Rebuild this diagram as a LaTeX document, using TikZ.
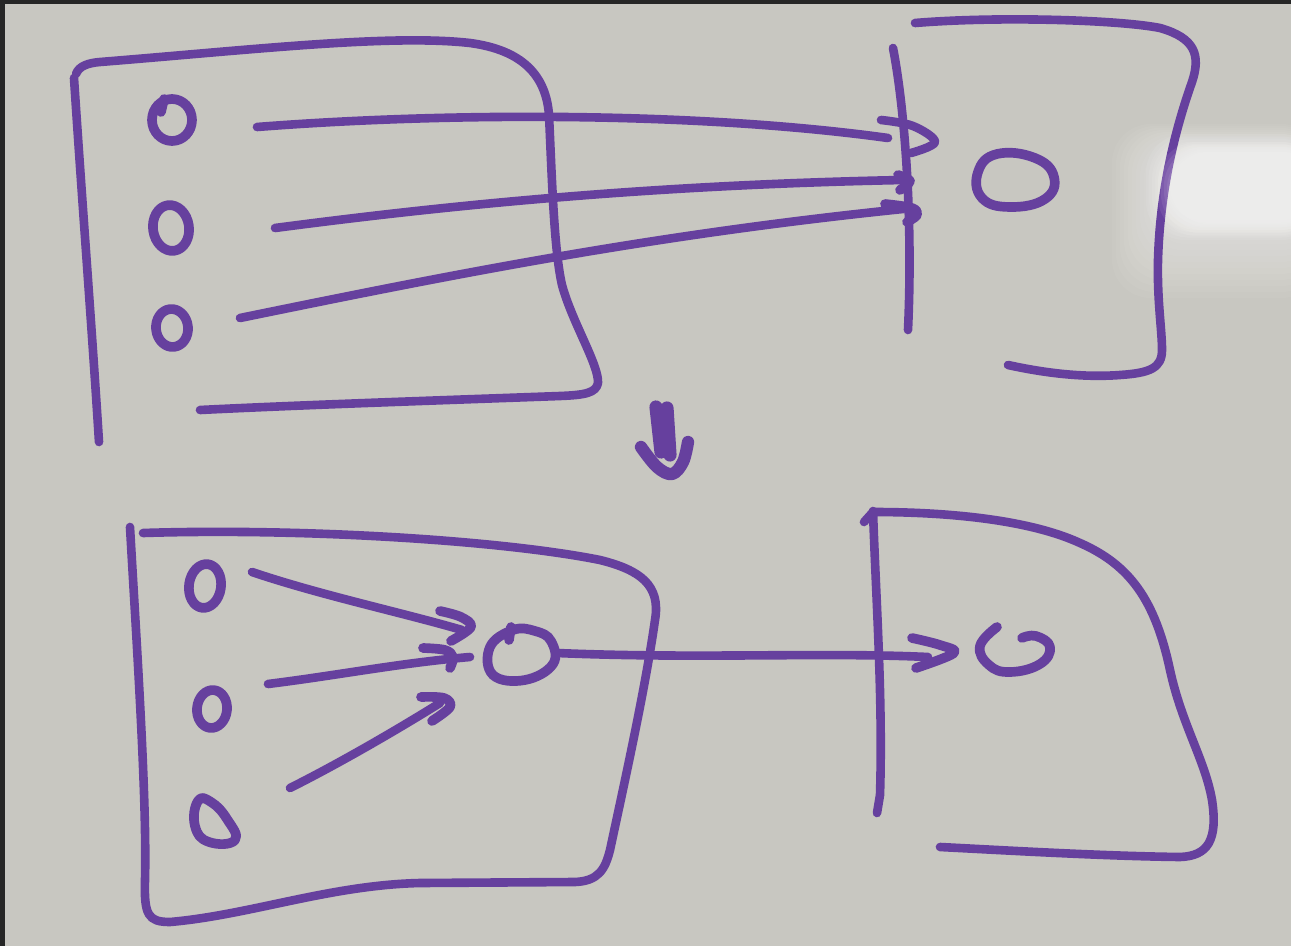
\documentclass[tikz,border=0pt]{standalone}
\usetikzlibrary{calc}
\definecolor{board}{RGB}{200,199,193}
\definecolor{pen}{RGB}{102,64,158}
\definecolor{frame}{RGB}{38,38,38}
\tikzset{
  ink/.style={draw=pen, line width=4.9pt, line cap=round, line join=round},
  inkthick/.style={ink, line width=5.5pt},
  glare/.style={fill=white, draw=none, rounded corners=22pt},
}
\begin{document}
\begin{tikzpicture}[x=0.02cm, y=-0.02cm]
\useasboundingbox (0,0) rectangle (1291,946);
% whiteboard surface
\fill[board] (0,0) rectangle (1291,946);
% light reflection on the board: a wide faint halo and a brighter core
\foreach \k in {0,...,13}
  \fill[glare, opacity=0.045] (1112+4*\k,124+2*\k) rectangle (1320,298-6*\k);
\foreach \k in {0,...,7}
  \fill[glare, opacity=0.07] (1146+3*\k,134+2.5*\k) rectangle (1320,240-2.5*\k);
% dark edge of the board frame
\fill[frame] (0,0) rectangle (1291,4);
\fill[frame] (0,0) rectangle (5,946);

% ---------------- upper sketch ----------------
% left box
\draw[ink] (74,78) .. controls (82,200) and (92,330) .. (99,442);
\draw[ink] (76,74) .. controls (79,66) and (88,63) .. (100,62)
  .. controls (250,50) and (390,34) .. (470,43)
  .. controls (522,50) and (546,75) .. (549,115)
  .. controls (552,180) and (554,250) .. (562,285)
  .. controls (572,322) and (599,365) .. (598,383)
  .. controls (596,393) and (585,395) .. (560,396)
  .. controls (450,400) and (300,405) .. (200,410);
% items in the left box
\coordinate (u1) at (172,120);
\coordinate (u2) at (171,228);
\coordinate (u3) at (172,328);
\draw[inkthick] (u1) ellipse [x radius=20, y radius=21];
\draw[inkthick] ($(u1)+(-8,-21)$) -- ($(u1)+(-11,-8)$);
\draw[inkthick, rotate around={8:(u2)}] (u2) ellipse [x radius=18, y radius=23];
\draw[inkthick, rotate around={6:(u3)}] (u3) ellipse [x radius=16, y radius=19];

% right box with its input bar
\draw[ink] (893,48) .. controls (905,110) and (913,220) .. (908,330);
\draw[ink] (915,23) .. controls (1000,16) and (1120,20) .. (1160,28)
  .. controls (1195,38) and (1201,55) .. (1192,82)
  .. controls (1175,130) and (1160,190) .. (1158,260)
  .. controls (1157,300) and (1162,330) .. (1162,350)
  .. controls (1162,368) and (1150,373) .. (1120,375)
  .. controls (1080,378) and (1040,372) .. (1008,365);
\coordinate (v1) at (1015,182);
\draw[inkthick] plot[smooth cycle, tension=0.75] coordinates {(997,154) (978,172) (982,198) (1010,207) (1045,199) (1054,177) (1035,158)};

% three connectors into the bar
\coordinate (a1s) at (257,127);
\coordinate (a1e) at (888,138);
\coordinate (a2s) at (275,228);
\coordinate (a2e) at (903,180);
\coordinate (a3s) at (240,318);
\coordinate (a3e) at (903,209);
\draw[ink] (a1s) .. controls (450,112) and (700,112) .. (a1e);
\draw[ink] (a2s) .. controls (450,205) and (650,185) .. (a2e);
\draw[ink] (a3s) .. controls (450,275) and (650,235) .. (a3e);
% hand-drawn heads
\draw[ink] plot[smooth, tension=0.6] coordinates {(881,120) (913,126) (935,142) (911,153)};
\draw[inkthick] plot[smooth, tension=0.6] coordinates {(898,175) (910,181) (900,190)};
\draw[inkthick] plot[smooth, tension=0.6] coordinates {(885,204) (912,208) (917,215) (907,222)};

% ---------------- transition arrow ----------------
\draw[ink, line width=7.5pt] (656,407) -- (661,452);
\draw[ink, line width=7.5pt] (667,408) -- (670,455);
\draw[ink, line width=7pt] plot[smooth, tension=0.6] coordinates {(641,447) (657,467) (672,474) (683,462) (688,442)};

% ---------------- lower sketch ----------------
% left box
\draw[ink] (130,527) .. controls (137,650) and (147,800) .. (145,880)
  .. controls (144,915) and (148,922) .. (170,922)
  .. controls (250,915) and (330,885) .. (420,883)
  -- (575,882)
  .. controls (598,881) and (605,870) .. (610,850)
  .. controls (625,780) and (645,690) .. (655,620)
  .. controls (661,585) and (640,570) .. (600,560)
  .. controls (500,540) and (300,528) .. (143,533);
\coordinate (w1) at (205,586);
\coordinate (w2) at (212,709);
\coordinate (w3) at (215,821);
\draw[inkthick, rotate around={-8:(w1)}] (w1) ellipse [x radius=16, y radius=22];
\draw[inkthick, rotate around={-6:(w2)}] (w2) ellipse [x radius=15, y radius=19];
\draw[inkthick] plot[smooth cycle, tension=0.8] coordinates {($(w3)+(-17,-20)$) ($(w3)+(-20,5)$) ($(w3)+(-6,21)$) ($(w3)+(20,19)$) ($(w3)+(12,-2)$) ($(w3)+(-4,-19)$)};
% merged item
\coordinate (m) at (520,655);
\draw[inkthick] plot[smooth cycle, tension=0.7] coordinates {(513,630) (490,647) (493,675) (525,680) (553,664) (551,641) (535,631)};
\draw[inkthick] (511,627) -- (509,640);
% three connectors into the merged item
\coordinate (b1s) at (252,572);
\coordinate (b1e) at (462,630);
\coordinate (b2s) at (268,684);
\coordinate (b2e) at (470,657);
\coordinate (b3s) at (290,788);
\coordinate (b3e) at (440,703);
\draw[ink] (b1s) .. controls (320,595) and (400,612) .. (b1e);
\draw[ink] (b2s) .. controls (340,675) and (400,663) .. (b2e);
\draw[ink] (b3s) .. controls (340,763) and (400,728) .. (b3e);
\draw[inkthick] plot[smooth, tension=0.6] coordinates {(440,611) (461,617) (471,627) (451,641)};
\draw[inkthick] plot[smooth, tension=0.6] coordinates {(423,648) (445,650) (453,657) (450,668)};
\draw[inkthick] plot[smooth, tension=0.6] coordinates {(421,697) (444,698) (450,707) (432,721)};

% right box with its input bar
\draw[ink] (873,511) .. controls (876,600) and (883,700) .. (880,795) -- (877,813);
\draw[ink] (864,522) -- (873,512);
\draw[ink] (873,512) .. controls (950,512) and (1030,520) .. (1080,543)
  .. controls (1130,565) and (1155,600) .. (1170,670)
  .. controls (1182,725) and (1205,760) .. (1212,800)
  .. controls (1218,840) and (1208,856) .. (1180,857)
  .. controls (1100,856) and (1000,850) .. (940,847);
\coordinate (n) at (1015,650);
\draw[inkthick] plot[smooth, tension=0.75] coordinates {(997,627) (980,646) (989,665) (1010,672) (1040,664) (1050,647) (1036,636) (1022,638)};
% connector from the merged item to the right box
\coordinate (cs) at (557,653);
\coordinate (ce) at (928,657);
\draw[ink] (cs) .. controls (700,659) and (820,652) .. (ce);
\draw[inkthick] plot[smooth, tension=0.6] coordinates {(912,638) (940,645) (954,653) (916,668)};

% the reflection also lightens the ink it covers
\foreach \k in {0,...,4}
  \fill[glare, opacity=0.08] (1158+3*\k,142+2.5*\k) rectangle (1320,236-3*\k);
\end{tikzpicture}
\end{document}
